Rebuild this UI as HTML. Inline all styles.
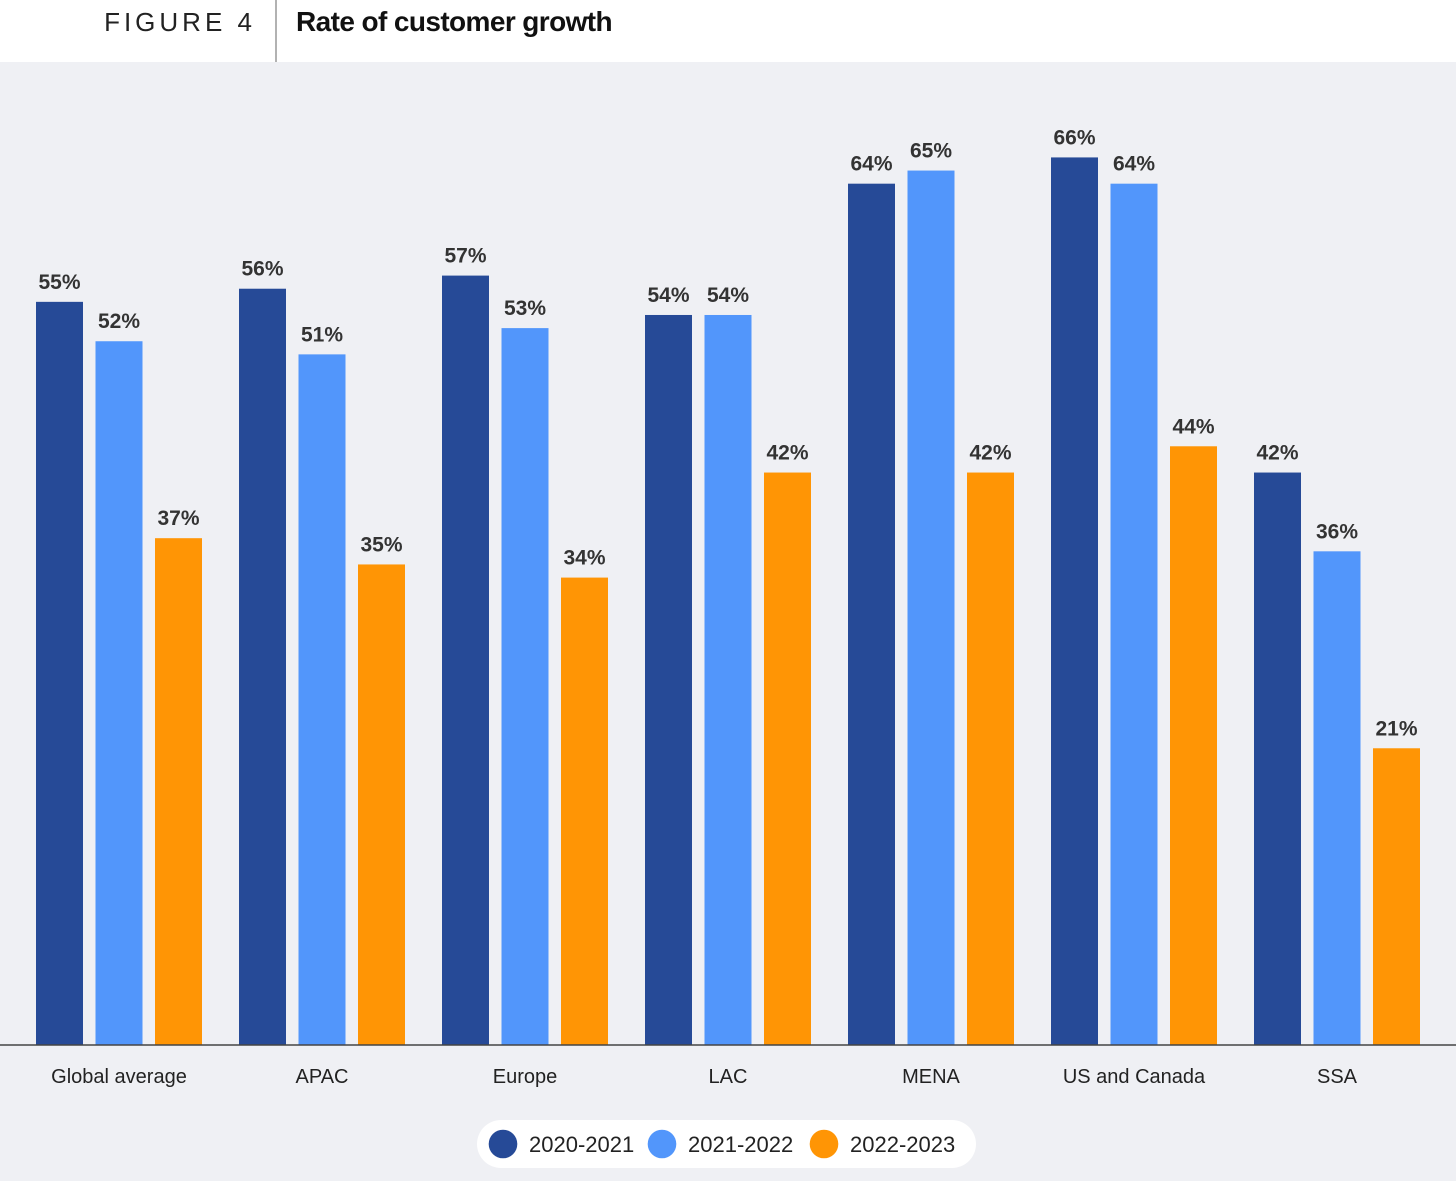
<!DOCTYPE html>
<html><head><meta charset="utf-8"><style>
html,body{margin:0;padding:0;width:1456px;height:1181px;overflow:hidden;background:#eff0f4;font-family:"Liberation Sans",Arial,sans-serif}
</style></head><body>
<svg width="1456" height="1181" xmlns="http://www.w3.org/2000/svg">
<rect x="0" y="0" width="1456" height="62" fill="#fff"/>
<line x1="276" y1="0" x2="276" y2="62" stroke="#999" stroke-width="1.5"/>
<text x="256" y="31" text-anchor="end" font-size="26" letter-spacing="4" fill="#222">FIGURE 4</text>
<text x="296" y="31" font-size="28" font-weight="bold" fill="#111" letter-spacing="-0.6">Rate of customer growth</text>
<g id="bars"></g>
<line x1="0" y1="1045" x2="1456" y2="1045" stroke="#444" stroke-width="1.5"/>
<rect x="477" y="1120" width="499" height="48" rx="24" fill="#fff"/>
<g id="legend"></g>
</svg>
<script>
const categories=["Global average","APAC","Europe","LAC","MENA","US and Canada","SSA"];
const s2021=[55,56,57,54,64,66,42];
const s2022=[52,51,53,54,65,64,36];
const s2023=[37,35,34,42,42,44,21];
const seriesNames=["2020-2021","2021-2022","2022-2023"];
const colors=["#264a97","#5296fb","#ff9505"];
const NS="http://www.w3.org/2000/svg";
const y=v=>1024-13.13*v;
const gx=i=>36+203*i;
const bars=document.getElementById('bars');
[s2021,s2022,s2023].forEach((s,si)=>{
 s.forEach((v,i)=>{
  const x=gx(i)+59.5*si;
  const r=document.createElementNS(NS,'rect');
  r.setAttribute('x',x);r.setAttribute('y',y(v));r.setAttribute('width',47);r.setAttribute('height',1045-y(v));r.setAttribute('fill',colors[si]);
  
  
  bars.appendChild(r);
  const t=document.createElementNS(NS,'text');
  t.setAttribute('x',x+23.5);t.setAttribute('y',y(v)-13);t.setAttribute('text-anchor','middle');t.setAttribute('font-size','21');t.setAttribute('font-weight','bold');t.setAttribute('fill','#333');
  t.textContent=v+'%';
  
  
  bars.appendChild(t);
 });
});
categories.forEach((c,i)=>{
 const t=document.createElementNS(NS,'text');
 t.setAttribute('x',gx(i)+83);t.setAttribute('y',1083);t.setAttribute('text-anchor','middle');t.setAttribute('font-size','20');t.setAttribute('fill','#222');
 t.textContent=c;
 
 
 bars.appendChild(t);
});
const lg=document.getElementById('legend');
const lx=[503,662,824];
seriesNames.forEach((n,i)=>{
 const c=document.createElementNS(NS,'circle');
 c.setAttribute('cx',lx[i]);c.setAttribute('cy',1144);c.setAttribute('r',14.3);c.setAttribute('fill',colors[i]);
 
 
 lg.appendChild(c);
 const t=document.createElementNS(NS,'text');
 t.setAttribute('x',lx[i]+26);t.setAttribute('y',1152);t.setAttribute('font-size','22');t.setAttribute('fill','#222');
 t.textContent=n;
 
 
 lg.appendChild(t);
});
</script>
</body></html>
